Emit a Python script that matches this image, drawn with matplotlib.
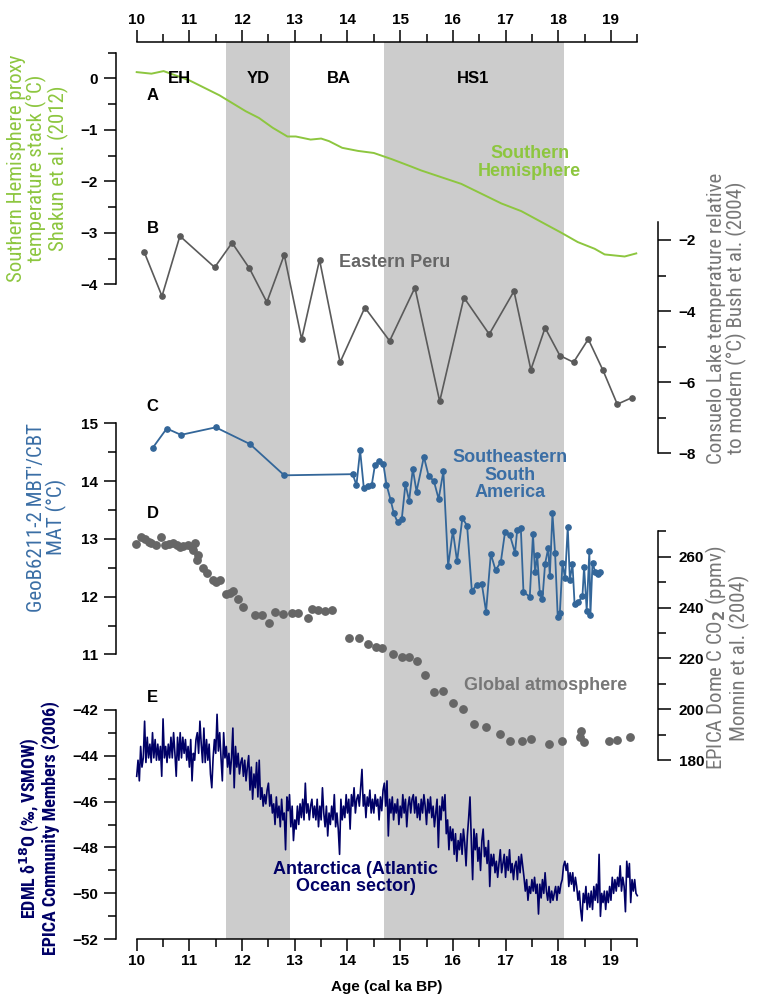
import numpy as np
import matplotlib
matplotlib.use('Agg')
import matplotlib.pyplot as plt
from matplotlib.ticker import MultipleLocator

plt.rcParams['font.family'] = ['Liberation Sans', 'DejaVu Sans']
plt.rcParams['font.weight'] = 'bold'
NARROW = ['Roboto Condensed', 'Liberation Sans Narrow', 'Liberation Sans', 'DejaVu Sans']

# --- data ---
periods = [('EH', 10.82), ('YD', 12.31), ('BA', 13.83), ('HS1', 16.39)]
yd_span = (11.7, 12.9)
hs1_span = (14.7, 18.1)

# A: Southern Hemisphere proxy stack (Shakun et al. 2012)
a_age = [10.0, 10.28, 10.51, 11.0, 11.57, 12.07, 12.32, 12.58, 12.86, 13.02, 13.3, 13.5,
         13.65, 13.9, 14.2, 14.5, 14.84, 15.2, 15.4, 15.78, 16.16, 16.54, 16.92, 17.3,
         17.68, 18.06, 18.37, 18.69, 18.88, 19.26, 19.48]
a_temp = [0.12, 0.09, 0.14, -0.04, -0.33, -0.64, -0.77, -0.96, -1.13, -1.13, -1.19, -1.17,
          -1.22, -1.35, -1.41, -1.45, -1.57, -1.71, -1.79, -1.92, -2.05, -2.24, -2.43, -2.58,
          -2.79, -3.0, -3.18, -3.31, -3.42, -3.46, -3.40]

# B: Consuelo Lake (Bush et al. 2004)
b_age = [10.14, 10.48, 10.82, 11.48, 11.81, 12.14, 12.47, 12.80, 13.13, 13.47, 13.86, 14.33,
         14.80, 15.28, 15.75, 16.21, 16.69, 17.16, 17.48, 17.75, 18.03, 18.29, 18.57, 18.85,
         19.12, 19.39]
b_temp = [-2.33, -3.58, -1.89, -2.77, -2.08, -2.80, -3.75, -2.42, -4.79, -2.56, -5.44, -3.90,
          -4.84, -3.34, -6.54, -3.62, -4.65, -3.44, -5.65, -4.47, -5.25, -5.44, -4.79, -5.67,
          -6.62, -6.44]

# C: GeoB6211-2 MBT'/CBT MAT
c_age = [10.30, 10.57, 10.84, 11.50, 12.15, 12.80, 14.10, 14.17, 14.24, 14.31,
         14.38, 14.46, 14.52, 14.60, 14.68, 14.74, 14.82, 14.88, 14.95, 15.03,
         15.10, 15.17, 15.24, 15.31, 15.45, 15.54, 15.64, 15.73, 15.82, 15.91,
         16.00, 16.08, 16.18, 16.27, 16.36, 16.45, 16.55, 16.63, 16.72, 16.81,
         16.91, 16.99, 17.08, 17.18, 17.22, 17.29, 17.34, 17.46, 17.52, 17.56,
         17.60, 17.65, 17.70, 17.75, 17.81, 17.84, 17.89, 17.94, 17.99, 18.03,
         18.08, 18.13, 18.18, 18.22, 18.27, 18.31, 18.38, 18.46, 18.49, 18.54,
         18.59, 18.61, 18.65, 18.70, 18.76, 18.80]
c_mat = [14.57, 14.91, 14.80, 14.93, 14.64, 14.10, 14.12, 13.93, 14.53, 13.88,
         13.92, 13.93, 14.27, 14.35, 14.30, 13.94, 13.67, 13.44, 13.29, 13.34,
         13.95, 13.66, 14.21, 13.82, 14.42, 14.09, 14.00, 13.69, 14.17, 12.53,
         13.14, 12.61, 13.36, 13.23, 12.10, 12.20, 12.22, 11.74, 12.74, 12.46,
         12.60, 13.12, 13.07, 12.76, 13.15, 13.18, 12.08, 12.00, 13.08, 12.42,
         12.72, 12.07, 11.96, 12.57, 12.84, 12.36, 13.44, 12.75, 11.65, 11.72,
         12.58, 12.32, 13.21, 12.29, 12.56, 11.87, 11.90, 12.02, 12.52, 11.76,
         12.79, 11.68, 12.59, 12.43, 12.40, 12.42]

# D: EPICA Dome C CO2 (Monnin et al. 2004)
d_age = [9.99, 10.08, 10.16, 10.23, 10.28, 10.37, 10.46, 10.54, 10.62, 10.69,
         10.76, 10.82, 10.88, 10.98, 11.04, 11.11, 11.07, 11.17, 11.14, 11.25,
         11.33, 11.45, 11.50, 11.58, 11.69, 11.77, 11.83, 11.93, 12.02, 12.24,
         12.37, 12.52, 12.62, 12.78, 12.94, 13.07, 13.26, 13.32, 13.45, 13.57,
         13.71, 14.02, 14.22, 14.38, 14.54, 14.66, 14.86, 15.03, 15.17, 15.32,
         15.47, 15.64, 15.82, 16.01, 16.20, 16.41, 16.62, 16.89, 17.08, 17.32,
         17.48, 17.83, 18.08, 18.44, 18.41, 18.49, 18.96, 19.12, 19.37]
d_co2 = [265.0, 267.9, 266.8, 265.9, 265.5, 264.6, 267.9, 264.6, 265.0, 265.5,
         264.6, 263.9, 264.2, 264.6, 263.9, 265.5, 262.6, 260.7, 258.7, 255.4,
         253.7, 250.8, 250.2, 250.8, 245.3, 245.6, 246.6, 243.2, 240.1, 237.1,
         237.1, 233.8, 238.1, 237.5, 238.0, 237.7, 236.0, 239.3, 239.0, 238.8,
         239.0, 228.1, 227.9, 225.7, 224.6, 224.0, 221.6, 220.4, 220.4, 218.9,
         213.4, 206.9, 207.2, 202.4, 200.1, 194.2, 193.2, 190.2, 187.5, 187.5,
         188.3, 186.2, 187.6, 191.6, 189.1, 187.3, 187.6, 187.9, 189.2]

# E: EDML d18O (EPICA Community Members 2006)
e_age = [
    10.0, 10.025, 10.05, 10.075, 10.1, 10.125, 10.15, 10.175, 10.2, 10.225, 10.25, 10.275, 10.3, 10.325, 10.35, 10.375, 10.4, 10.425, 10.45, 10.475,
    10.5, 10.525, 10.55, 10.575, 10.6, 10.625, 10.65, 10.675, 10.7, 10.725, 10.75, 10.775, 10.8, 10.825, 10.85, 10.875, 10.9, 10.925, 10.95, 10.975,
    11.0, 11.025, 11.05, 11.075, 11.1, 11.125, 11.15, 11.175, 11.2, 11.225, 11.25, 11.275, 11.3, 11.325, 11.35, 11.375, 11.4, 11.425, 11.45, 11.475,
    11.5, 11.525, 11.55, 11.575, 11.6, 11.625, 11.65, 11.675, 11.7, 11.725, 11.75, 11.775, 11.8, 11.825, 11.85, 11.875, 11.9, 11.925, 11.95, 11.975,
    12.0, 12.025, 12.05, 12.075, 12.1, 12.125, 12.15, 12.175, 12.2, 12.225, 12.25, 12.275, 12.3, 12.325, 12.35, 12.375, 12.4, 12.425, 12.45, 12.475,
    12.5, 12.525, 12.55, 12.575, 12.6, 12.625, 12.65, 12.675, 12.7, 12.725, 12.75, 12.775, 12.8, 12.825, 12.85, 12.875, 12.9, 12.925, 12.95, 12.975,
    13.0, 13.025, 13.05, 13.075, 13.1, 13.125, 13.15, 13.175, 13.2, 13.225, 13.25, 13.275, 13.3, 13.325, 13.35, 13.375, 13.4, 13.425, 13.45, 13.475,
    13.5, 13.525, 13.55, 13.575, 13.6, 13.625, 13.65, 13.675, 13.7, 13.725, 13.75, 13.775, 13.8, 13.825, 13.85, 13.875, 13.9, 13.925, 13.95, 13.975,
    14.0, 14.025, 14.05, 14.075, 14.1, 14.125, 14.15, 14.175, 14.2, 14.225, 14.25, 14.275, 14.3, 14.325, 14.35, 14.375, 14.4, 14.425, 14.45, 14.475,
    14.5, 14.525, 14.55, 14.575, 14.6, 14.625, 14.65, 14.675, 14.7, 14.725, 14.75, 14.775, 14.8, 14.825, 14.85, 14.875, 14.9, 14.925, 14.95, 14.975,
    15.0, 15.025, 15.05, 15.075, 15.1, 15.125, 15.15, 15.175, 15.2, 15.225, 15.25, 15.275, 15.3, 15.325, 15.35, 15.375, 15.4, 15.425, 15.45, 15.475,
    15.5, 15.525, 15.55, 15.575, 15.6, 15.625, 15.65, 15.675, 15.7, 15.725, 15.75, 15.775, 15.8, 15.825, 15.85, 15.875, 15.9, 15.925, 15.95, 15.975,
    16.0, 16.025, 16.05, 16.075, 16.1, 16.125, 16.15, 16.175, 16.2, 16.225, 16.25, 16.275, 16.3, 16.325, 16.35, 16.375, 16.4, 16.425, 16.45, 16.475,
    16.5, 16.525, 16.55, 16.575, 16.6, 16.625, 16.65, 16.675, 16.7, 16.725, 16.75, 16.775, 16.8, 16.825, 16.85, 16.875, 16.9, 16.925, 16.95, 16.975,
    17.0, 17.025, 17.05, 17.075, 17.1, 17.125, 17.15, 17.175, 17.2, 17.225, 17.25, 17.275, 17.3, 17.325, 17.35, 17.375, 17.4, 17.425, 17.45, 17.475,
    17.5, 17.525, 17.55, 17.575, 17.6, 17.625, 17.65, 17.675, 17.7, 17.725, 17.75, 17.775, 17.8, 17.825, 17.85, 17.875, 17.9, 17.925, 17.95, 17.975,
    18.0, 18.025, 18.05, 18.075, 18.1, 18.125, 18.15, 18.175, 18.2, 18.225, 18.25, 18.275, 18.3, 18.325, 18.35, 18.375, 18.4, 18.425, 18.45, 18.475,
    18.5, 18.525, 18.55, 18.575, 18.6, 18.625, 18.65, 18.675, 18.7, 18.725, 18.75, 18.775, 18.8, 18.825, 18.85, 18.875, 18.9, 18.925, 18.95, 18.975,
    19.0, 19.025, 19.05, 19.075, 19.1, 19.125, 19.15, 19.175, 19.2, 19.225, 19.25, 19.275, 19.3, 19.325, 19.35, 19.375, 19.4, 19.425, 19.45, 19.475,
    19.5]
e_d18o = [
    -44.9, -44.2, -45.1, -43.6, -44.5, -44.1, -42.5, -44.3, -43.2, -44.1, -43.5, -44.3, -43.0, -44.1, -43.3, -44.2, -43.5, -44.2, -43.6, -44.9,
    -42.4, -44.1, -43.6, -44.3, -43.5, -44.1, -43.2, -44.1, -43.0, -43.9, -44.9, -43.2, -44.2, -43.0, -44.1, -43.2, -43.9, -43.3, -44.2, -43.6,
    -44.5, -43.3, -45.1, -43.9, -44.2, -43.3, -43.0, -43.9, -42.5, -43.5, -44.3, -42.8, -44.3, -43.3, -44.2, -43.5, -44.8, -45.4, -44.1, -43.3,
    -43.9, -42.2, -43.8, -43.0, -44.1, -45.1, -43.0, -44.1, -43.6, -44.5, -43.9, -44.8, -44.1, -42.8, -45.4, -43.6, -44.5, -43.9, -44.8, -44.3,
    -44.1, -44.9, -44.2, -45.1, -44.5, -44.0, -45.5, -44.5, -45.9, -44.8, -45.4, -44.3, -45.8, -44.2, -45.9, -45.4, -46.2, -45.7, -46.1, -45.5,
    -45.2, -46.2, -45.7, -46.5, -46.1, -47.0, -45.8, -46.7, -46.2, -47.1, -45.9, -46.8, -46.5, -48.1, -45.8, -46.4, -45.7, -47.1, -46.2, -47.7,
    -46.8, -47.2, -46.2, -47.0, -46.1, -46.7, -45.9, -46.8, -45.2, -46.5, -46.1, -46.8, -46.2, -45.9, -46.7, -46.2, -46.8, -45.9, -47.1, -46.2,
    -46.8, -45.4, -46.5, -47.1, -46.2, -47.5, -46.5, -47.0, -46.2, -46.8, -45.7, -47.1, -46.5, -47.2, -48.3, -45.9, -46.8, -46.2, -46.7, -45.7,
    -46.5, -45.9, -47.2, -45.7, -46.2, -45.4, -46.5, -45.9, -45.7, -46.2, -45.4, -44.6, -46.2, -45.7, -46.7, -45.8, -46.2, -45.5, -46.5, -45.9,
    -46.5, -45.7, -46.2, -45.9, -46.8, -45.8, -46.4, -45.5, -45.2, -46.2, -45.1, -47.5, -45.9, -46.5, -45.8, -46.8, -46.1, -46.5, -45.9, -47.0,
    -46.2, -46.7, -45.7, -46.5, -45.9, -47.1, -46.2, -45.8, -46.5, -45.9, -45.7, -46.5, -45.8, -46.7, -46.1, -46.8, -45.9, -46.5, -45.7, -46.2,
    -47.0, -45.9, -46.5, -45.8, -46.7, -46.2, -47.1, -46.5, -45.9, -48.0, -46.2, -46.8, -45.8, -46.4, -45.7, -47.4, -46.8, -48.1, -47.1, -47.7,
    -47.2, -48.3, -47.4, -48.6, -47.7, -48.1, -47.4, -48.3, -47.2, -47.8, -48.8, -47.5, -46.7, -45.8, -47.7, -49.4, -47.2, -48.1, -47.4, -48.6,
    -48.0, -49.0, -47.7, -47.2, -48.4, -48.0, -48.7, -47.7, -49.7, -48.3, -48.8, -48.3, -49.1, -48.6, -49.3, -48.7, -48.1, -49.1, -48.7, -48.3,
    -49.3, -48.4, -49.0, -48.1, -49.1, -48.7, -49.4, -48.8, -48.6, -49.4, -48.4, -49.1, -48.3, -48.8, -49.3, -49.9, -49.4, -50.3, -49.7, -50.0,
    -49.4, -49.9, -49.3, -50.0, -49.6, -50.9, -49.6, -50.2, -49.4, -50.0, -49.1, -49.9, -50.3, -49.7, -50.4, -49.9, -50.3, -50.0, -49.7, -50.3,
    -49.7, -50.0, -49.6, -49.4, -48.8, -48.6, -49.0, -48.7, -49.7, -49.1, -49.6, -49.1, -49.9, -49.3, -49.7, -50.3, -49.9, -50.7, -51.2, -50.0,
    -50.4, -49.7, -50.7, -50.0, -50.6, -49.9, -50.7, -49.7, -50.3, -49.6, -50.4, -48.3, -51.0, -50.0, -50.4, -49.9, -50.7, -49.9, -50.4, -49.7,
    -50.3, -49.3, -50.0, -49.4, -49.9, -49.3, -49.7, -48.8, -49.9, -49.3, -49.7, -50.8, -48.6, -49.3, -48.7, -50.4, -49.4, -49.9, -49.4, -50.0,
    -50.1]

GREEN = '#8dc63f'
GREY = '#5a5a5a'
BLUE = '#336699'
NAVY = '#000066'
SHADE = '#cccccc'

W, H = 762, 1008
X0, X1 = 136.7, 637.3
XLIM = (10, 19.5)


def box(top, bottom):
    return [X0 / W, 1 - bottom / H, (X1 - X0) / W, (bottom - top) / H]


fig = plt.figure(figsize=(W / 100, H / 100), dpi=100)

# shared age axis with the shaded intervals
ax = fig.add_axes(box(42, 939.3))
ax.set_xlim(*XLIM)
ax.set_ylim(0, 1)
ax.axvspan(*yd_span, color=SHADE, lw=0)
ax.axvspan(*hs1_span, color=SHADE, lw=0)
ax.spines['left'].set_visible(False)
ax.spines['right'].set_visible(False)
for s in ['top', 'bottom']:
    ax.spines[s].set_linewidth(1.1)
ax.set_yticks([])
ax.xaxis.set_major_locator(MultipleLocator(1))
ax.xaxis.set_minor_locator(MultipleLocator(0.5))
ax.tick_params(axis='x', which='both', top=True, bottom=True, labeltop=True,
               labelbottom=True, direction='out', width=1.1)
ax.tick_params(axis='x', which='major', length=8.5, labelsize=11, pad=2)
ax.tick_params(axis='x', which='minor', length=5.5)
ax.set_xlabel('Age (cal ka BP)', fontsize=11, fontweight='bold', labelpad=9)


def panel(top, bottom, ylim, side, major, minor):
    a = fig.add_axes(box(top, bottom))
    a.set_facecolor('none')
    a.set_xlim(*XLIM)
    a.set_ylim(*ylim)
    for s in a.spines.values():
        s.set_visible(False)
    sp = a.spines[side]
    sp.set_visible(True)
    sp.set_linewidth(1.1)
    sp.set_position(('outward', 15.0 if side == 'left' else 14.7))
    a.set_xticks([])
    a.yaxis.set_ticks_position(side)
    a.yaxis.set_major_locator(MultipleLocator(major))
    a.yaxis.set_minor_locator(MultipleLocator(minor))
    a.tick_params(axis='y', which='both', direction='out', width=1.1)
    a.tick_params(axis='y', which='major', length=9, labelsize=11,
                  pad=4 if side == 'left' else 6)
    a.tick_params(axis='y', which='minor', length=6)
    return a


ax_a = panel(52.55, 284.3, (-4, 0.5), 'left', 1, 0.5)
ax_b = panel(222.2, 453.3, (-8, -1.5), 'right', 2, 1)
ax_c = panel(423.3, 654.5, (11, 15), 'left', 1, 0.5)
ax_d = panel(531.3, 760.2, (180, 270), 'right', 20, 10)
ax_e = panel(709.7, 939.3, (-52, -42), 'left', 2, 1)

ax_a.plot(a_age, a_temp, color=GREEN, lw=1.4, clip_on=False)
ax_b.plot(b_age, b_temp, color=GREY, lw=1.2, marker='o', ms=3.8, clip_on=False)
ax_c.plot(c_age, c_mat, color=BLUE, lw=1.3, marker='o', ms=3.8, clip_on=False)
ax_d.plot(d_age, d_co2, ls='none', marker='o', ms=5.3, color='#666666', clip_on=False)
ax_e.plot(e_age, e_d18o, color=NAVY, lw=1.2, clip_on=False)

# period labels and panel letters
for name, x in periods:
    ax_a.text(x, 0.0, name, ha='center', va='center', fontsize=12)
for a, y, letter in [(ax_a, -0.34, 'A'), (ax_b, -1.67, 'B'), (ax_c, 15.29, 'C'),
                     (ax_d, 277.1, 'D'), (ax_e, -41.46, 'E')]:
    a.text(10.30, y, letter, ha='center', va='center', fontsize=12)

ax_a.text(17.46, -1.63, 'Southern\nHemisphere', color=GREEN, ha='center', va='center',
          fontsize=13, linespacing=1.05)
ax_b.text(14.90, -2.64, 'Eastern Peru', color='#666666', ha='center', va='center', fontsize=13)
ax_c.text(17.08, 14.1, 'Southeastern\nSouth\nAmerica', color='#3a6ea5', ha='center',
          va='center', fontsize=13, linespacing=1.05)
ax_d.text(17.75, 209.3, 'Global atmosphere', color='#777777', ha='center', va='center',
          fontsize=13)
ax_e.text(14.16, -49.33, 'Antarctica (Atlantic\nOcean sector)', color=NAVY, ha='center',
          va='center', fontsize=13, linespacing=1.05)


# axis titles
def side_label(x, y, txt, color, size=15, weight='normal', ls=1.0):
    fig.text(x / W, 1 - y / H, txt, rotation=90, ha='center', va='center',
             multialignment='center', color=color, fontsize=size, fontweight=weight,
             family=NARROW, fontstretch='condensed', linespacing=ls)


side_label(38, 168, 'Southern Hemisphere proxy\ntemperature stack (\u00b0C)\nShakun et al. (2012)', GREEN)
side_label(47, 517, "GeoB6211-2 MBT\u2032/CBT\nMAT (\u00b0C)", '#3a6ea5')
side_label(39, 828, 'EDML \u03b4$^{18}$O (\u2030, VSMOW)\nEPICA Community Members (2006)', NAVY,
           size=13, weight='bold', ls=1.0)
side_label(727, 318, 'Consuelo Lake temperature relative\nto modern (\u00b0C) Bush et al. (2004)',
           '#777777')
side_label(727, 658, 'EPICA Dome C CO$_2$ (ppmv)\nMonnin et al. (2004)', '#777777')

fig.savefig('out.png', dpi=100)
